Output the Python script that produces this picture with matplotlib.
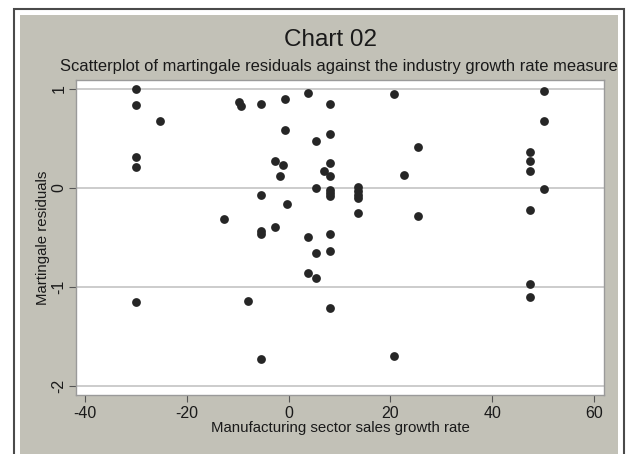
import matplotlib
matplotlib.use("Agg")
import matplotlib.pyplot as plt
from matplotlib.patches import Rectangle

plt.rcParams['font.family'] = ['Liberation Sans', 'DejaVu Sans']
plt.rcParams['axes.unicode_minus'] = False

# growth rate (x) and martingale residual (y)
growth = [-30.1, -30.1, -30.1, -30.1, -30.1,
          -25.2, -12.8, -9.7, -9.4, -8.0,
          -5.5, -5.5, -5.5, -5.5, -5.5,
          -2.7, -2.7, -1.2, -1.7, -0.8, -0.8, -0.25,
          3.8, 3.8, 3.8,
          5.3, 5.3, 5.3, 5.3, 7.0,
          8.1, 8.1, 8.1, 8.1, 8.1, 8.1, 8.1, 8.1, 8.1, 8.1,
          13.6, 13.6, 13.6, 13.6, 13.6,
          20.7, 20.7, 22.7, 25.5, 25.5,
          47.4, 47.4, 47.4, 47.4, 47.4, 47.4,
          50.2, 50.2, 50.2]
resid = [1.0, 0.835, 0.31, 0.215, -1.15,
         0.68, -0.31, 0.87, 0.83, -1.14,
         0.85, -0.075, -0.43, -0.46, -1.73,
         0.27, -0.39, 0.23, 0.125, 0.9, 0.586, -0.16,
         0.96, -0.49, -0.855,
         0.47, 0.0, -0.66, -0.91, 0.175,
         0.85, 0.54, 0.256, 0.12, -0.02, -0.05, -0.08, -0.46, -0.64, -1.21,
         0.013, -0.027, -0.068, -0.10, -0.25,
         0.946, -1.70, 0.135, 0.41, -0.283,
         0.364, 0.276, 0.168, -0.222, -0.97, -1.104,
         0.98, 0.68, -0.007]

xticks = [-40, -20, 0, 20, 40, 60]
yticks = [-2, -1, 0, 1]

W, H = 627, 454
fig = plt.figure(figsize=(W / 100, H / 100), dpi=100)
fig.patch.set_facecolor('white')

# outer frame and gray graph region (Stata style), kept behind the axes
fig.add_artist(Rectangle((13.5 / W, -0.1), 610 / W, 1.1 - 8.5 / H,
                         transform=fig.transFigure, facecolor='white',
                         edgecolor='#4a4a4a', linewidth=1.5, zorder=-10))
fig.add_artist(Rectangle((20 / W, -0.1), 598 / W, 1.1 - 15 / H,
                         transform=fig.transFigure, facecolor='#c2c1b7',
                         edgecolor='none', zorder=-9))

ax = fig.add_axes([76 / W, (H - 395) / H, 528 / W, 315 / H])
ax.set_facecolor('white')
ax.set_xlim(-41.8, 62)
ax.set_ylim(-2.09, 1.09)

for y in yticks:
    ax.axhline(y, color='#c8c8c8', linewidth=1.3, zorder=1)

ax.scatter(growth, resid, s=40, color='#262626', zorder=3, linewidths=0)

ax.set_xticks(xticks)
ax.set_yticks(yticks)
ax.tick_params(axis='both', labelsize=11.5, length=5, color='#555555',
               labelcolor='#1a1a1a', pad=2)
ax.tick_params(axis='x', pad=3)
for lab in ax.get_yticklabels():
    lab.set_rotation(90)
    lab.set_va('center')

for side in ['left', 'bottom', 'top', 'right']:
    ax.spines[side].set_color('#9a9a9a')
    ax.spines[side].set_linewidth(1.0)

ax.set_xlabel('Manufacturing sector sales growth rate', fontsize=10.8,
              color='#1a1a1a', labelpad=0)
ax.set_ylabel('Martingale residuals', fontsize=10.8, color='#1a1a1a',
              labelpad=1)

fig.text(331 / W, 1 - 40 / H, 'Chart 02', ha='center', va='center',
         fontsize=17.5, color='#1a1a1a')
fig.text(339 / W, 1 - 66 / H,
         'Scatterplot of martingale residuals against the industry growth rate measure',
         ha='center', va='center', fontsize=11.9, color='#1a1a1a')

fig.savefig('out.png', dpi=100)
